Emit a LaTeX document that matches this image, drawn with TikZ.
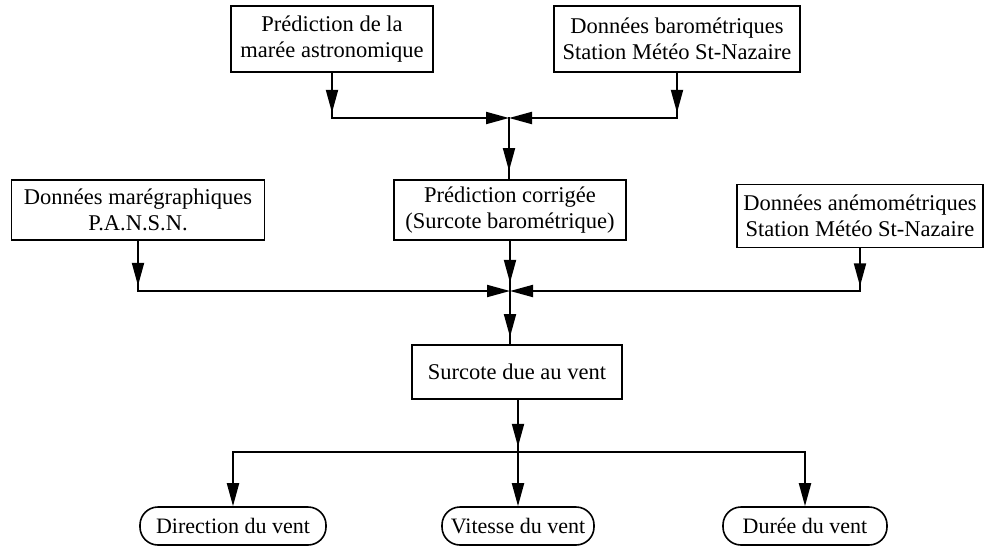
\documentclass[tikz,border=0pt]{standalone}
\usepackage{fontspec}
\setmainfont{Liberation Serif}
\usetikzlibrary{arrows.meta,decorations.markings}

\tikzset{
  box/.style={draw, line width=1.6pt, rectangle, align=center, inner sep=2pt,
    font=\fontsize{22.5}{26}\selectfont},
  pill/.style={draw, line width=1.6pt, rounded corners=18pt, align=center,
    minimum height=38pt, inner sep=2pt, font=\fontsize{22}{25}\selectfont},
  link/.style={line width=2pt, line cap=rect},
  tip/.style={-{Triangle[length=23pt,width=12pt]}},
  tipat/.style={postaction={decorate}, decoration={markings,
    mark=at position #1 with {\arrow{Triangle[length=23pt,width=12pt]}}}},
}

\begin{document}
\begin{tikzpicture}[x=1pt, y=-1pt]
		\useasboundingbox (0,0) rectangle (985,549);

		% Nodes
		\node[box, minimum width=202pt, minimum height=66pt] (astro) at (332,39) {Prédiction de la\\marée astronomique};
		\node[box, minimum width=246pt, minimum height=66pt] (baro) at (677,39) {Données barométriques\\Station Météo St-Nazaire};
		\node[box, minimum width=253pt, minimum height=60pt] (mareo) at (138,210) {Données marégraphiques\\P.A.N.S.N.};
		\node[box, minimum width=232pt, minimum height=60pt] (corr) at (510,210) {Prédiction corrigée\\(Surcote barométrique)};
		\node[box, minimum width=246pt, minimum height=63pt] (anemo) at (860,216) {Données anémométriques\\Station Météo St-Nazaire};
		\node[box, minimum width=210pt, minimum height=54pt] (vent) at (517,372) {Surcote due au vent};
		\node[pill, minimum width=186pt] (dir) at (233,526) {Direction du vent};
		\node[pill, minimum width=152pt] (vit) at (518,526) {Vitesse du vent};
		\node[pill, minimum width=164pt] (dur) at (805,526) {Durée du vent};

		% Junctions
		\coordinate (j1) at (509,118);
		\coordinate (ja) at (astro.south |- j1);
		\coordinate (jb) at (baro.south |- j1);
		\coordinate (j2) at (510,291);
		\coordinate (jd) at (mareo.south |- j2);
		\coordinate (je) at (anemo.south |- j2);
		\coordinate (j3) at (518,452);
		\coordinate (jg) at (dir.north |- j3);
		\coordinate (ji) at (dur.north |- j3);

		% Edges
		\draw[link, tip, tipat=40pt] (astro) -- (ja) -- (j1);
		\draw[link, tip, tipat=40pt] (baro) -- (jb) -- (j1);
		\draw[link, tipat=53pt] (j1) -- (corr.north -| j1);
		\draw[link, tip, tipat=45pt] (mareo) -- (jd) -- (j2);
		\draw[link, tip, tipat=38pt] (anemo) -- (je) -- (j2);
		\draw[link, tipat=42pt] (corr) -- (j2);
		\draw[link, tipat=46pt] (j2) -- (vent.north -| j2);
		\draw[link, tipat=47pt] (vent.south -| j3) -- (j3);
		\draw[link] (jg) -- (ji);
		\draw[link, tip] (jg) -- (dir);
		\draw[link, tip] (j3) -- (vit);
		\draw[link, tip] (ji) -- (dur);

	\end{tikzpicture}
\end{document}
